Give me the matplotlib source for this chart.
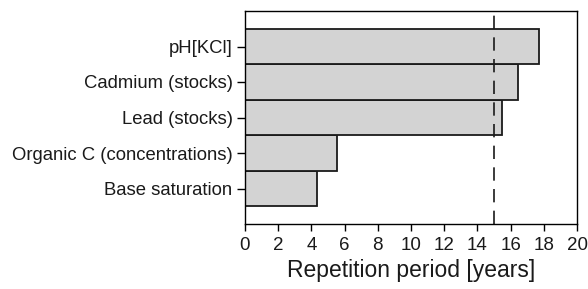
import matplotlib
matplotlib.use("Agg")
import matplotlib.pyplot as plt

categories = ["Base saturation", "Organic C (concentrations)", "Lead (stocks)",
              "Cadmium (stocks)", "pH[KCl]"]
values = [4.34, 5.56, 15.5, 16.45, 17.73]
threshold = 15.0
xticks = list(range(0, 21, 2))

plt.rcParams['font.family'] = ['Liberation Sans', 'DejaVu Sans']

fig = plt.figure(figsize=(5.88, 2.89), dpi=100)
ax = fig.add_axes([245/588, 1-224/289, (577-245)/588, (224-11)/289])
ax.barh(range(len(categories)), values, height=1.0, color="#d3d3d3",
        edgecolor="#1a1a1a", linewidth=1.3)
ax.axvline(threshold, color="#1a1a1a", linestyle=(0, (8, 5)), linewidth=1.2)
ax.set_xlim(0, 20)
ax.set_ylim(-1.0, 5.0)
ax.set_yticks(range(len(categories)))
ax.set_yticklabels(categories, fontsize=13.3, color="#1a1a1a")
ax.set_xticks(xticks)
ax.set_xticklabels([str(t) for t in xticks], fontsize=13.5, color="#1a1a1a")
ax.set_xlabel("Repetition period [years]", fontsize=16.5, labelpad=4, color="#1a1a1a")
for s in ax.spines.values():
    s.set_linewidth(1.0)
ax.tick_params(axis='y', length=6, width=1.0, pad=3)
ax.tick_params(axis='x', length=5, width=1.0, pad=4)
fig.savefig("out.png", dpi=100)
